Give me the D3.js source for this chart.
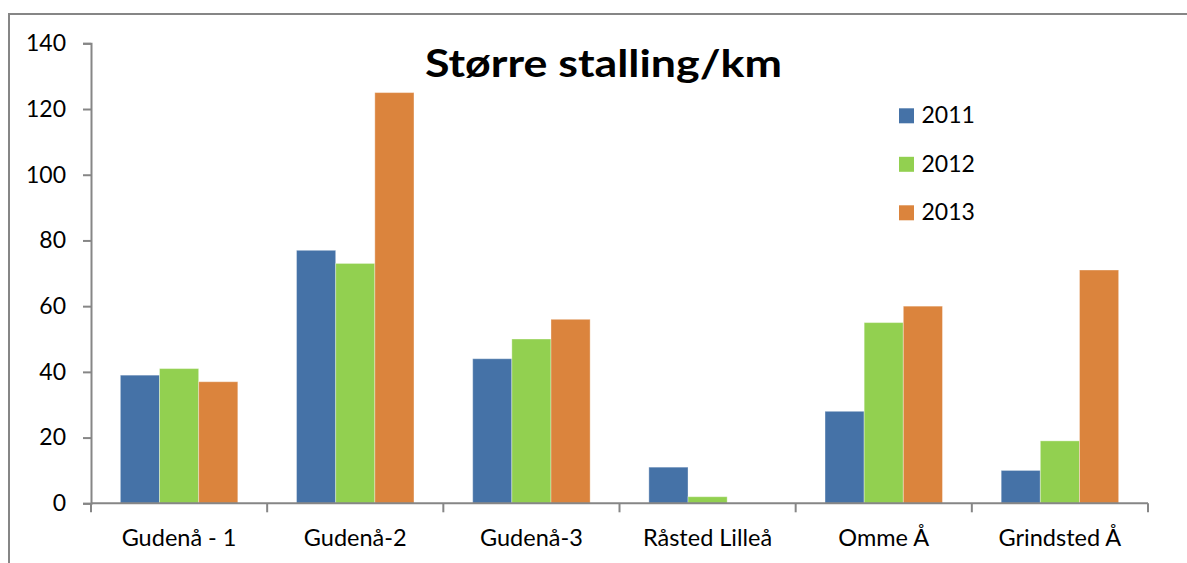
<!DOCTYPE html>
<html>
<head>
<meta charset="utf-8">
<script src="https://cdn.jsdelivr.net/npm/d3@7"></script>
<style>
  html, body { margin: 0; padding: 0; background: #fff; }
  svg { display: block; }
  text { font-family: Lato, "Open Sans", sans-serif; fill: #000; }
</style>
</head>
<body>
<svg id="chart" width="1187" height="563"></svg>
<script>
const categories = ["Gudenå - 1", "Gudenå-2", "Gudenå-3", "Råsted Lilleå", "Omme Å", "Grindsted Å"];
const seriesNames = ["2011", "2012", "2013"];
const values2011 = [39, 77, 44, 11, 28, 10];
const values2012 = [41, 73, 50, 2, 55, 19];
const values2013 = [37, 125, 56, 0, 60, 71];
const yTicks = [0, 20, 40, 60, 80, 100, 120, 140];
const chartTitle = "Større stalling/km";
const colors = ["#4572A7", "#92D050", "#DB843D"];

const seriesValues = [values2011, values2012, values2013];

(function () {
const svg = d3.select("#chart");
const W = 1187, H = 563;
const pLeft = 91, pRight = 1148, pTop = 43.3, pBottom = 503.3;
const axisColor = "#868686";

// outer border
svg.append("rect")
  .attr("x", 9).attr("y", 14)
  .attr("width", W + 20).attr("height", H + 20)
  .attr("fill", "none").attr("stroke", axisColor).attr("stroke-width", 2);

const x0 = d3.scaleBand().domain(categories).range([pLeft, pRight]).paddingInner(0).paddingOuter(0);
const bw = x0.bandwidth();
const gap = bw / 4.5 * 1.5;
const x1 = d3.scaleBand().domain(seriesNames).range([gap / 2, bw - gap / 2]).padding(0);
const y = d3.scaleLinear().domain([0, 140]).range([pBottom, pTop]);

// bars
const groups = svg.append("g").selectAll("g")
  .data(categories)
  .join("g")
  .attr("transform", d => `translate(${x0(d)},0)`);

groups.selectAll("rect")
  .data((c, i) => seriesNames.map((s, j) => ({ s, j, v: seriesValues[j][i] })).filter(d => d.v > 0))
  .join("rect")
  .attr("x", d => x1(d.s))
  .attr("y", d => y(d.v))
  .attr("width", x1.bandwidth())
  .attr("height", d => y(0) - y(d.v))
  .attr("fill", d => colors[d.j])
  .attr("stroke", "rgba(255,255,255,0.35)")
  .attr("stroke-width", 1);

// y axis
const yAxis = d3.axisLeft(y).tickValues(yTicks).tickSize(8).tickPadding(17).tickFormat(d3.format("d"));
const gy = svg.append("g").attr("transform", `translate(${pLeft},0)`).call(yAxis);
gy.select(".domain").attr("stroke", axisColor).attr("stroke-width", 2);
gy.selectAll(".tick line").attr("stroke", axisColor).attr("stroke-width", 2);
gy.selectAll(".tick text").style("font-size", "23px").style("font-family", "Lato, sans-serif").attr("fill", "#000");

// x axis line
svg.append("line")
  .attr("x1", pLeft).attr("x2", pRight).attr("y1", pBottom).attr("y2", pBottom)
  .attr("stroke", axisColor).attr("stroke-width", 2);

// x ticks at band boundaries
const boundaries = categories.map(c => x0(c)).concat([pRight]);
svg.append("g").selectAll("line")
  .data(boundaries)
  .join("line")
  .attr("x1", d => d).attr("x2", d => d)
  .attr("y1", pBottom).attr("y2", pBottom + 9)
  .attr("stroke", axisColor).attr("stroke-width", 2);

// x labels
svg.append("g").selectAll("text")
  .data(categories)
  .join("text")
  .attr("x", d => x0(d) + bw / 2)
  .attr("y", 546)
  .attr("text-anchor", "middle")
  .style("font-size", "23.5px")
  .text(d => d);

// title
svg.append("text")
  .attr("x", 425).attr("y", 77)
  .attr("textLength", 357)
  .attr("lengthAdjust", "spacingAndGlyphs")
  .style("font-size", "38px")
  .style("font-weight", "bold")
  .text(chartTitle);

// legend
const legend = svg.append("g").selectAll("g")
  .data(seriesNames)
  .join("g")
  .attr("transform", (d, i) => `translate(899,${108.3 + i * 48.5})`);
legend.append("rect")
  .attr("width", 15).attr("height", 15)
  .attr("fill", (d, i) => colors[i]);
legend.append("text")
  .attr("x", 22.5).attr("y", 15)
  .style("font-size", "23px")
  .text(d => d);
})();
</script>
</body>
</html>
